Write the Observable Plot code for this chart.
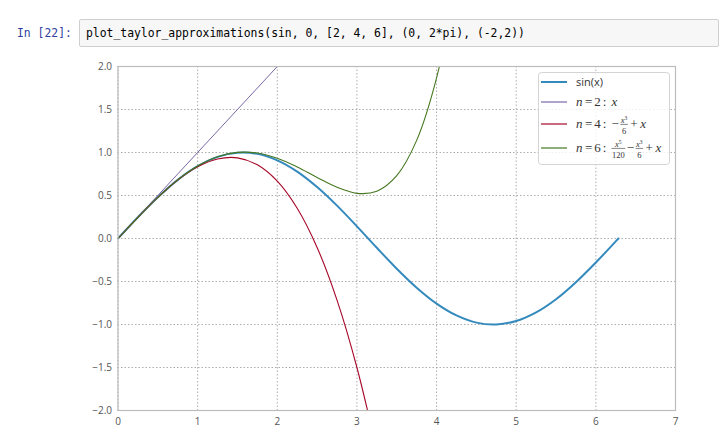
<!DOCTYPE html>
<html><head><meta charset="utf-8">
<script src="https://cdn.jsdelivr.net/npm/d3@7"></script>
<script src="https://cdn.jsdelivr.net/npm/@observablehq/plot@0.6"></script>
<style>
body{margin:0;background:#fff;width:720px;height:444px;overflow:hidden;position:relative;font-family:"Open Sans",sans-serif}
#prompt{position:absolute;left:17px;top:24px;font:11.4px "DejaVu Sans Mono",monospace;color:#303F9F;line-height:18px;white-space:pre}
#cell{position:absolute;left:79px;top:19px;width:640px;height:28px;background:#f7f7f7;border:1px solid #cfcfcf;border-radius:2px;box-sizing:border-box;font:11.4px "DejaVu Sans Mono",monospace;padding-left:6px;padding-top:4px;line-height:18px;color:#000;white-space:pre}
#chart{position:absolute;left:0;top:55px}
#legend{position:absolute;left:0;top:0;pointer-events:none}
</style>
</head><body>
<div id="prompt">In [22]:</div>
<div id="cell">plot_taylor_approximations(sin, 0, [2, 4, 6], (0, 2*pi), (-2,2))</div>
<div id="chart"></div>
<svg id="legend" width="720" height="444"></svg>
<script>
// ---- data ----
const xSin = [0,0.25,0.5,0.75,1,1.25,1.5,1.75,2,2.25,2.5,2.75,3,3.25,3.5,3.75,4,4.25,4.5,4.75,5,5.25,5.5,5.75,6,6.25,6.2832];
const ySin = [0,0.247,0.479,0.682,0.841,0.949,0.997,0.984,0.909,0.778,0.598,0.382,0.141,-0.108,-0.351,-0.572,-0.757,-0.895,-0.978,-0.999,-0.959,-0.859,-0.706,-0.508,-0.279,-0.033,0];
const xN2 = [0, 2.25];
const yN2 = [0, 2.25];
const xN4 = [0,0.25,0.5,0.75,1,1.25,1.5,1.75,2,2.25,2.5,2.75,3,3.25];
const yN4 = [0,0.247,0.479,0.680,0.833,0.924,0.938,0.857,0.667,0.352,-0.104,-0.716,-1.5,-2.471];
const xN6 = [0,0.25,0.5,0.75,1,1.25,1.5,1.75,2,2.25,2.5,2.75,3,3.25,3.5,3.75,4,4.25];
const yN6 = [0,0.247,0.479,0.682,0.842,0.950,1.001,0.994,0.933,0.832,0.710,0.595,0.525,0.550,0.731,1.141,1.867,3.011];
const xTicks = [0,1,2,3,4,5,6,7];
const yTicks = [-2,-1.5,-1,-0.5,0,0.5,1,1.5,2];
const seriesNames = ["sin(x)", "n=2", "n=4", "n=6"];
const seriesColors = ["#348ABD", "#7A68A6", "#A60628", "#467821"];

const toRows = (xs, ys) => xs.map((x, i) => ({x, y: ys[i]}));

const chart = Plot.plot({
  width: 720,
  height: 389,
  marginLeft: 117.5,
  marginRight: 45,
  marginTop: 11,
  marginBottom: 34,
  style: {fontFamily: "'Open Sans', sans-serif", fontSize: "10px", color: "#555", background: "transparent"},
  x: {domain: [0, 7], ticks: xTicks, tickSize: 0, tickPadding: 7, tickFormat: d3.format("d"), label: null},
  y: {domain: [-2, 2], ticks: yTicks, tickSize: 0, tickPadding: 6, tickFormat: d3.format(".1f"), label: null},
  marks: [
    Plot.gridX(xTicks, {stroke: "#999", strokeOpacity: 0.8, strokeDasharray: "1.5,2", strokeWidth: 1}),
    Plot.gridY(yTicks, {stroke: "#999", strokeOpacity: 0.8, strokeDasharray: "1.5,2", strokeWidth: 1}),
    Plot.lineY(toRows(xSin, ySin), {x: "x", y: "y", stroke: seriesColors[0], strokeWidth: 2, curve: "catmull-rom", clip: true}),
    Plot.lineY(toRows(xN2, yN2), {x: "x", y: "y", stroke: seriesColors[1], strokeWidth: 1, clip: true}),
    Plot.lineY(toRows(xN4, yN4), {x: "x", y: "y", stroke: seriesColors[2], strokeWidth: 1.1, curve: "catmull-rom", clip: true}),
    Plot.lineY(toRows(xN6, yN6), {x: "x", y: "y", stroke: seriesColors[3], strokeWidth: 1.1, curve: "catmull-rom", clip: true}),
    Plot.frame({stroke: "#bcbcbc", strokeWidth: 1.2})
  ]
});
document.getElementById("chart").appendChild(chart);

// ---- legend ----
const lg = d3.select("#legend");
lg.append("rect").attr("x", 538.5).attr("y", 72.5).attr("width", 131).attr("height", 92)
  .attr("rx", 3).attr("fill", "#fff").attr("fill-opacity", 0.8).attr("stroke", "#d4d4d4");
const rowY = [82, 102, 124, 148];
const mathFont = "'Liberation Serif', 'DejaVu Serif', serif";
const ink = "#333";

function txt(g, x, y, s, size, italic) {
  const t = g.append("text").attr("x", x).attr("y", y).attr("font-family", mathFont)
    .attr("font-size", size).attr("font-style", italic ? "italic" : "normal").attr("fill", ink).text(s);
  return t.node().getComputedTextLength();
}
function piece(g, x, y, p) {
  if (p.frac) {
    const sub = g.append("g");
    let wn = 0;
    p.frac.num.forEach(q => { wn += txt(sub, x + wn, y - 5.5 - (q.sup ? 2.5 : 0), q.t, q.sup ? 5.5 : 8.5, q.i); });
    const wd = txt(sub, x, y + 5.5, p.frac.den, 8.5, false);
    const w = Math.max(wn, wd) + 1;
    const nodes = sub.selectAll("text").nodes();
    const nNum = p.frac.num.length;
    nodes.forEach((n, i) => {
      const shift = i < nNum ? (w - wn) / 2 : (w - wd) / 2;
      n.setAttribute("x", +n.getAttribute("x") + shift);
    });
    sub.append("line").attr("x1", x).attr("x2", x + w).attr("y1", y - 3.6).attr("y2", y - 3.6)
      .attr("stroke", ink).attr("stroke-width", 0.6);
    return w + (p.gap || 0);
  }
  return txt(g, x, y, p.t, 13, p.i) + (p.gap || 0);
}
const X = {t: "x", i: true}, X3 = {t: "3", sup: true};
const head = d => [{t: "n", i: true, gap: 2.5}, {t: "=", gap: 2}, {t: d, gap: 2}, {t: ":", gap: 5}];
const legendParts = [
  null,
  [...head("2"), {t: "x", i: true}],
  [...head("4"), {t: "−", gap: 1.5}, {frac: {num: [X, X3], den: "6"}, gap: 2.5}, {t: "+", gap: 2.5}, {t: "x", i: true}],
  [...head("6"), {frac: {num: [X, {t: "5", sup: true}], den: "120"}, gap: 1.5}, {t: "−", gap: 1.5},
   {frac: {num: [X, X3], den: "6"}, gap: 2.5}, {t: "+", gap: 2.5}, {t: "x", i: true}]
];
seriesNames.forEach((name, k) => {
  const y = rowY[k];
  lg.append("line").attr("x1", 541).attr("x2", 567).attr("y1", y).attr("y2", y)
    .attr("stroke", seriesColors[k]).attr("stroke-width", k === 0 ? 2 : 1.2);
  const g = lg.append("g");
  if (!legendParts[k]) {
    g.append("text").attr("x", 576).attr("y", y + 4).attr("font-family", "'Open Sans', sans-serif")
      .attr("font-size", 11).attr("fill", ink).text(name);
  } else {
    let cx = 576;
    legendParts[k].forEach(p => { cx += piece(g, cx, y + 4, p); });
  }
});
</script>
</body></html>
